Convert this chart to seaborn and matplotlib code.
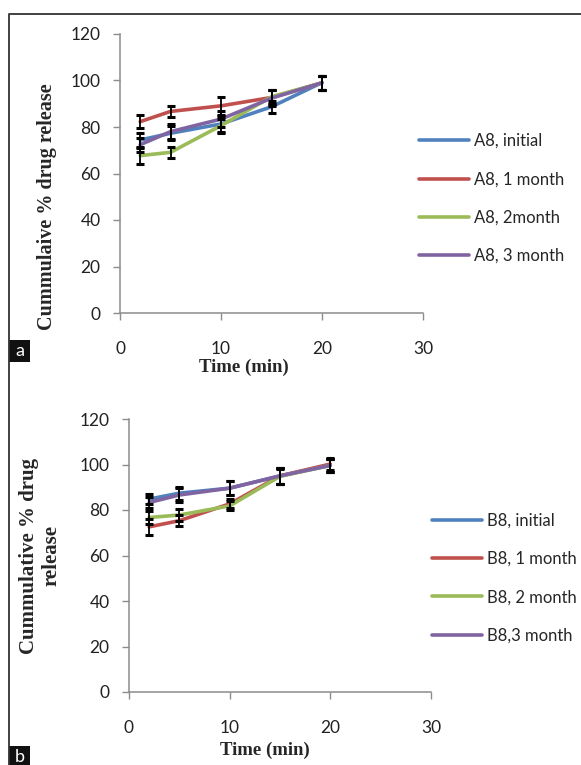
"""Cumulative drug release stability curves, panels a (A8) and b (B8)."""
import pandas as pd
import seaborn as sns
import matplotlib.pyplot as plt
from matplotlib.lines import Line2D
from matplotlib.patches import Rectangle

# time points (min)
times = [2, 5, 10, 15, 20]

# panel a, formulation A8
a_labels = ["A8, initial", "A8, 1 month", "A8, 2month", "A8, 3 month"]
a_initial = [74.4, 77.3, 81.3, 88.7, 99.1]
a_1month = [82.3, 86.7, 89.1, 92.7, 99.0]
a_2month = [67.7, 69.1, 80.6, 93.0, 99.0]
a_3month = [72.4, 78.0, 83.4, 92.4, 99.0]
a_initial_sd = [3.0, 3.0, 3.5, 2.5, 3.0]
a_1month_sd = [2.8, 2.5, 3.9, 3.0, 3.0]
a_2month_sd = [3.4, 2.5, 3.0, 3.0, 3.0]
a_3month_sd = [3.0, 3.3, 3.5, 3.3, 3.0]

# panel b, formulation B8
b_labels = ["B8, initial", "B8, 1 month", "B8, 2 month", "B8,3 month"]
b_initial = [84.8, 87.4, 89.6, 95.0, 99.6]
b_1month = [72.6, 75.3, 82.7, 95.0, 100.2]
b_2month = [76.7, 77.8, 81.8, 94.8, 99.6]
b_3month = [83.3, 86.6, 89.6, 95.0, 99.6]
b_initial_sd = [2.2, 2.9, 3.2, 3.4, 2.8]
b_1month_sd = [3.5, 2.3, 2.0, 3.4, 2.8]
b_2month_sd = [3.0, 2.5, 2.0, 3.4, 2.8]
b_3month_sd = [2.5, 2.9, 3.2, 3.4, 2.8]

x_ticks = [0, 10, 20, 30]
y_ticks = [0, 20, 40, 60, 80, 100, 120]

colors = ["#4F81BD", "#C0504D", "#9BBB59", "#8064A2"]
axis_gray = "#8c8c8c"

sns.set_style("white")
plt.rcParams["font.family"] = ["Lato", "DejaVu Sans"]

W, H = 581, 765
fig = plt.figure(figsize=(W / 100, H / 100), dpi=100)


def make_frame(labels, means, sds):
    rows = []
    for lab, m, s in zip(labels, means, sds):
        for t, v, e in zip(times, m, s):
            rows.append({"Series": lab, "Time": t, "Release": v, "SD": e})
    return pd.DataFrame(rows)


def draw_panel(rect, df, labels, legend_xy):
    ax = fig.add_axes(rect)
    sns.lineplot(data=df, x="Time", y="Release", hue="Series",
                 hue_order=labels, palette=colors, linewidth=2.6,
                 ax=ax, legend=True)
    for lab in labels:
        sub = df[df["Series"] == lab]
        ax.errorbar(sub["Time"], sub["Release"], yerr=sub["SD"], fmt="none",
                    ecolor="black", elinewidth=1.3, capsize=3.2,
                    capthick=2.2, zorder=5)
    ax.set_xlim(0, 30)
    ax.set_ylim(0, 120)
    ax.set_xticks(x_ticks)
    ax.set_yticks(y_ticks)
    ax.set_xlabel("")
    ax.set_ylabel("")
    for side in ["top", "right"]:
        ax.spines[side].set_visible(False)
    for side in ["left", "bottom"]:
        ax.spines[side].set_color(axis_gray)
        ax.spines[side].set_linewidth(1.1)
    ax.tick_params(axis="both", direction="out", length=5, width=1,
                   color=axis_gray, labelsize=12.5, labelcolor="#222222")
    ax.tick_params(axis="x", pad=15)
    ax.tick_params(axis="y", pad=9)
    ax.tick_params(left=True, bottom=True)
    sns.move_legend(ax, "center left", title=None, frameon=False,
                    bbox_to_anchor=legend_xy, bbox_transform=fig.transFigure,
                    fontsize=12, handlelength=3.0, handletextpad=0.3,
                    labelspacing=1.34, borderpad=0)
    for ln in ax.get_legend().get_lines():
        ln.set_linewidth(2.6)
    return ax


df_a = make_frame(a_labels, [a_initial, a_1month, a_2month, a_3month],
                  [a_initial_sd, a_1month_sd, a_2month_sd, a_3month_sd])
df_b = make_frame(b_labels, [b_initial, b_1month, b_2month, b_3month],
                  [b_initial_sd, b_1month_sd, b_2month_sd, b_3month_sd])

draw_panel([120 / W, 1 - 313 / H, 303 / W, 279 / H], df_a, a_labels,
           (411 / W, 1 - 198.5 / H))
draw_panel([129 / W, 1 - 692 / H, 302 / W, 273 / H], df_b, b_labels,
           (424 / W, 1 - 578 / H))

serif = ["Liberation Serif", "DejaVu Serif"]
fig.text(47 / W, 1 - 207 / H, "Cummulaive % drug release", rotation=90,
         ha="center", va="center", fontsize=14.5, fontweight="bold",
         family=serif)
fig.text(244 / W, 1 - 367 / H, "Time (min)", ha="center", va="center",
         fontsize=13.5, fontweight="bold", family=serif)
fig.text(40 / W, 1 - 556 / H, "Cummulative % drug\nrelease", rotation=90,
         ha="center", va="center", fontsize=15, fontweight="bold",
         family=serif, linespacing=1.15, multialignment="center")
fig.text(265 / W, 1 - 750 / H, "Time (min)", ha="center", va="center",
         fontsize=13.5, fontweight="bold", family=serif)

# outer frame (cropped at right and bottom)
fig.add_artist(Line2D([9 / W, 9 / W, 1], [0, 1 - 14 / H, 1 - 14 / H],
                      transform=fig.transFigure, color="#333333", lw=1.3))

# panel tags
for tag, top in [("a", 340), ("b", 746)]:
    fig.add_artist(Rectangle((9 / W, 1 - (top + 22) / H), 21 / W, 22 / H,
                             transform=fig.transFigure, facecolor="#111111",
                             edgecolor="none"))
    fig.text(19.5 / W, 1 - (top + 11) / H, tag, color="white", ha="center",
             va="center", fontsize=13)

fig.savefig("out.png", dpi=100, facecolor="white")
